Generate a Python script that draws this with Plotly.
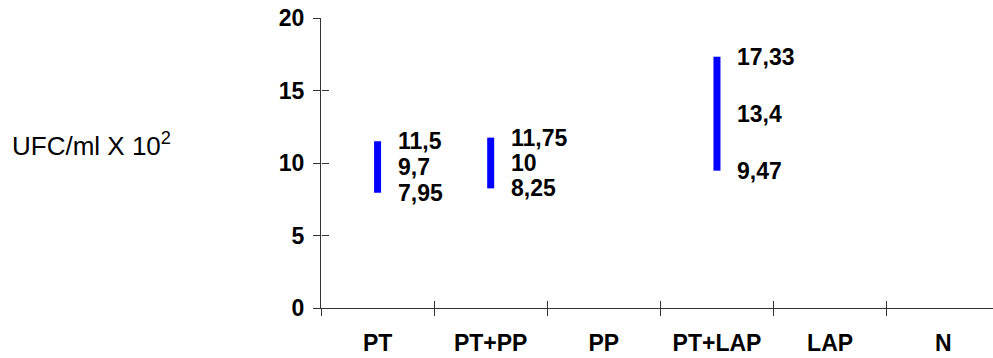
import plotly.graph_objects as go

categories = ["PT", "PT+PP", "PP", "PT+LAP", "LAP", "N"]
high_vals = [11.5, 11.75, None, 17.33, None, None]
mean_vals = [9.7, 10, None, 13.4, None, None]
low_vals = [7.95, 8.25, None, 9.47, None, None]
y_ticks = [0, 5, 10, 15, 20]
y_title = "UFC/ml X 10<sup>2</sup>"

FONT = "Liberation Sans, Arial, sans-serif"
AXC = "#333333"
FS = 23

def fmt(v):
    return f"{v:g}".replace(".", ",")

bx, by, bh = [], [], []
for c, h, l in zip(categories, high_vals, low_vals):
    if h is not None:
        bx.append(c)
        by.append(h - l)
        bh.append(l)

fig = go.Figure()
fig.add_trace(go.Scatter(x=categories, y=[0] * len(categories), mode="markers",
                         marker=dict(opacity=0, size=1), hoverinfo="skip", showlegend=False))
fig.add_trace(go.Scatter(x=categories, y=[0] * len(categories), mode="markers",
                         marker=dict(opacity=0, size=1), hoverinfo="skip", showlegend=False,
                         xaxis="x2", yaxis="y2"))
fig.add_trace(go.Bar(x=bx, y=by, base=bh, width=0.062,
                     marker=dict(color="#0000FF", line=dict(width=0)),
                     hoverinfo="skip", showlegend=False))

annotations = []
for c, h, m, l in zip(categories, high_vals, mean_vals, low_vals):
    if h is None:
        continue
    for v in (h, m, l):
        annotations.append(dict(x=c, y=v, xref="x", yref="y", text=fmt(v),
                                showarrow=False, xanchor="left", yanchor="middle",
                                xshift=18,
                                font=dict(family=FONT, size=FS, color="black", weight="bold")))

annotations.append(dict(x=-0.463, y=0.565, xref="paper", yref="paper", text=y_title,
                        showarrow=False, xanchor="left", yanchor="middle",
                        font=dict(family=FONT, size=26, color="black")))

xrange = [-0.5, 5.44]
fig.update_layout(
    width=993, height=358,
    margin=dict(l=321, r=0, t=18, b=50),
    paper_bgcolor="white", plot_bgcolor="white",
    showlegend=False,
    annotations=annotations,
    xaxis=dict(type="category", categoryorder="array", categoryarray=categories,
               range=xrange, tickson="boundaries", ticks="outside", ticklen=7,
               tickcolor=AXC, tickwidth=1, showline=True, linecolor=AXC, linewidth=1,
               showgrid=False, zeroline=False, automargin=False, ticklabelstandoff=14,
               ticklabeloverflow="allow",
               tickfont=dict(family=FONT, size=FS, color="black", weight="bold")),
    xaxis2=dict(type="category", categoryorder="array", categoryarray=categories,
                overlaying="x", anchor="y", side="bottom", automargin=False,
                range=xrange, tickson="boundaries", ticks="inside", ticklen=7,
                tickcolor=AXC, tickwidth=1, showline=False, showgrid=False,
                zeroline=False, showticklabels=False),
    yaxis=dict(range=[0, 20], tickvals=y_ticks, ticks="outside", ticklen=7,
               tickcolor=AXC, tickwidth=1, showline=True, linecolor=AXC, linewidth=1,
               showgrid=False, zeroline=False, automargin=False, ticklabelstandoff=4,
               ticklabeloverflow="allow",
               tickfont=dict(family=FONT, size=FS, color="black", weight="bold")),
    yaxis2=dict(range=[0, 20], tickvals=y_ticks, overlaying="y", anchor="free",
                position=0, side="left", ticks="inside", ticklen=7, automargin=False,
                tickcolor=AXC, tickwidth=1, showline=False, showgrid=False,
                zeroline=False, showticklabels=False),
)

fig.write_html("out.html", config={"displayModeBar": False},
               post_script="document.body.style.margin='0';")
